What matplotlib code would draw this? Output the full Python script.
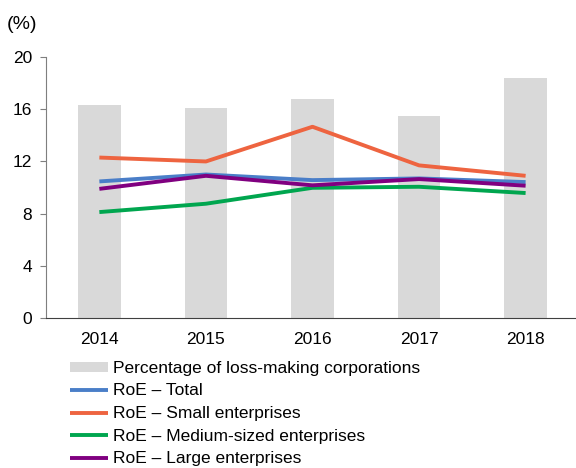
#!/usr/bin/env python3

import matplotlib

matplotlib.use("Agg")
import matplotlib.pyplot as plt
import numpy as np

plt.rcParams["font.family"] = ["Liberation Sans", "DejaVu Sans"]

YEARS = ["2014", "2015", "2016", "2017", "2018"]

# Share of corporations reporting a loss (%)
LOSS_MAKING = [16.3, 16.07, 16.76, 15.5, 18.4]

# Return on equity by enterprise size (%)
ROE_TOTAL = [10.47, 11.0, 10.57, 10.7, 10.42]
ROE_SMALL = [12.3, 12.0, 14.66, 11.7, 10.9]
ROE_MEDIUM = [8.12, 8.76, 9.98, 10.06, 9.58]
ROE_LARGE = [9.9, 10.9, 10.17, 10.65, 10.14]

Y_TICKS = [0, 4, 8, 12, 16, 20]

BAR_COLOR = "#d9d9d9"
SERIES = [
    ("RoE \u2013 Total", ROE_TOTAL, "#4a7ec8"),
    ("RoE \u2013 Small enterprises", ROE_SMALL, "#ee6440"),
    ("RoE \u2013 Medium-sized enterprises", ROE_MEDIUM, "#00a64f"),
    ("RoE \u2013 Large enterprises", ROE_LARGE, "#800080"),
]

FONT_SIZE = 12.5


def main() -> int:
    fig = plt.figure(figsize=(5.76, 4.68), dpi=100)
    ax = fig.add_axes([0.08, 0.3205, 0.925, 0.5575])

    x = np.arange(len(YEARS))
    ax.bar(x, LOSS_MAKING, width=0.4, color=BAR_COLOR,
           label="Percentage of loss-making corporations", zorder=1)

    for label, values, color in SERIES:
        ax.plot(x, values, color=color, lw=2.8, label=label,
                solid_capstyle="butt", zorder=2)

    ax.set_xlim(-0.5, 4.5)
    ax.set_ylim(0, 20)
    ax.set_xticks(x)
    ax.set_xticklabels(YEARS)
    ax.set_yticks(Y_TICKS)

    for side in ("top", "right"):
        ax.spines[side].set_visible(False)
    ax.spines["left"].set_color("#7f7f7f")
    ax.spines["bottom"].set_color("#404040")

    ax.tick_params(axis="x", length=0, pad=10, labelsize=FONT_SIZE)
    ax.tick_params(axis="y", length=4, direction="out", color="#7f7f7f",
                   labelsize=FONT_SIZE, pad=6)

    fig.text(0.012, 0.948, "(%)", fontsize=14, va="center", ha="left")

    handles, labels = ax.get_legend_handles_labels()
    # bar entry goes first, then the RoE lines
    handles = handles[-1:] + handles[:-1]
    labels = labels[-1:] + labels[:-1]
    fig.legend(handles, labels, loc="upper left",
               bbox_to_anchor=(0.1215, 0.229), frameon=False,
               fontsize=FONT_SIZE, handlelength=2.2, handletextpad=0.25,
               labelspacing=0.44, borderaxespad=0, borderpad=0,
               handleheight=0.5)

    fig.savefig("out.png", dpi=100)
    plt.close(fig)
    return 0


if __name__ == "__main__":
    raise SystemExit(main())
